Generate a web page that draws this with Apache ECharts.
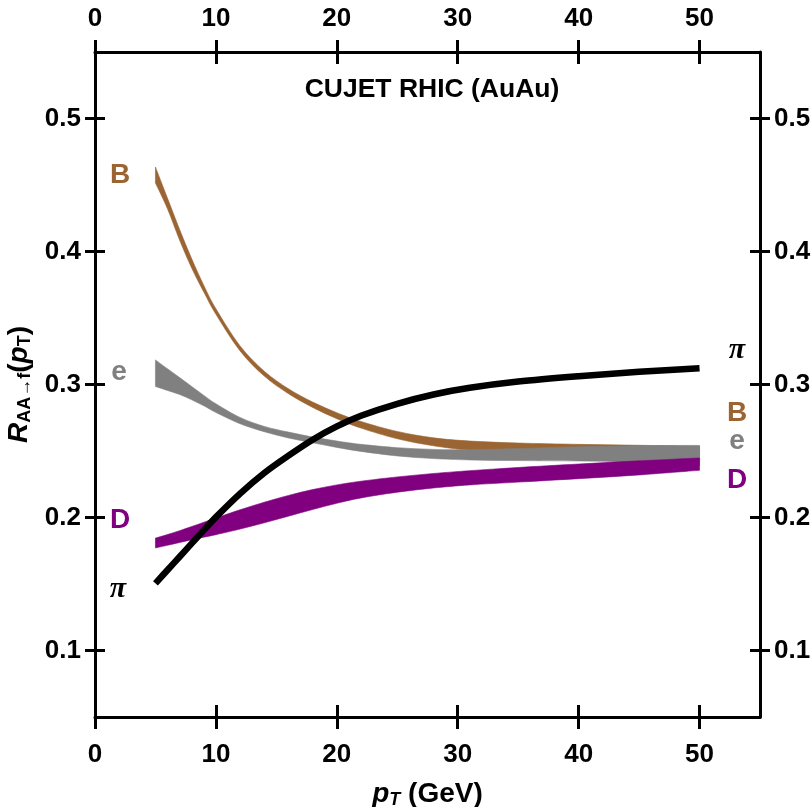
<!DOCTYPE html>
<html>
<head>
<meta charset="utf-8">
<script src="https://cdn.jsdelivr.net/npm/echarts@6/dist/echarts.min.js"></script>
<style>
html,body{margin:0;padding:0;background:#fff;}
#chart{width:811px;height:807px;}
</style>
</head>
<body>
<div id="chart"></div>
<script>
// ---- data ----
const pt   = [5,6,7,8,9,10,12,14,16,18,20,22,25,28,31,35,40,45,50];
const piR  = [0.1505,0.1605,0.1705,0.1805,0.1905,0.2003,0.2180,0.2335,0.2465,0.2585,0.2685,0.2765,0.2855,0.2925,0.2975,0.3022,0.3062,0.3095,0.3122];
const bUp  = [0.4635,0.4400,0.4165,0.3945,0.3745,0.3570,0.3290,0.3100,0.2968,0.2868,0.2788,0.2722,0.2647,0.2599,0.2575,0.2560,0.2550,0.2543,0.2535];
const bLo  = [0.4515,0.4320,0.4085,0.3875,0.3695,0.3528,0.3252,0.3063,0.2931,0.2828,0.2743,0.2672,0.2592,0.2539,0.2505,0.2475,0.2440,0.2413,0.2390];
const eUp  = [0.3185,0.3118,0.3052,0.2985,0.2918,0.2855,0.2752,0.2685,0.2642,0.2605,0.2575,0.2550,0.2525,0.2512,0.2510,0.2518,0.2532,0.2540,0.2542];
const eLo  = [0.2985,0.2955,0.2925,0.2885,0.2840,0.2790,0.2705,0.2645,0.2598,0.2562,0.2527,0.2497,0.2463,0.2443,0.2433,0.2428,0.2425,0.2420,0.2415];
const dUp  = [0.1845,0.1872,0.1901,0.1932,0.1964,0.1996,0.2058,0.2115,0.2166,0.2210,0.2245,0.2273,0.2305,0.2331,0.2352,0.2376,0.2402,0.2426,0.2448];
const dLo  = [0.1771,0.1791,0.1812,0.1833,0.1852,0.1871,0.1913,0.1960,0.2010,0.2060,0.2107,0.2147,0.2190,0.2222,0.2245,0.2266,0.2292,0.2320,0.2355];
const xTicks = [0,10,20,30,40,50];
const yTicks = [0.1,0.2,0.3,0.4,0.5];
const title = 'CUJET RHIC (AuAu)';

const BROWN = '#9a6532', GRAY = '#808080', PURPLE = '#800080', BLACK = '#000000';
const FONT = 'Liberation Sans, Arial, sans-serif';

// Catmull-Rom -> cubic bezier segments through pixel points
function crSegments(p) {
  let d = '';
  const n = p.length;
  for (let i = 0; i < n - 1; i++) {
    const p0 = p[Math.max(i - 1, 0)], p1 = p[i], p2 = p[i + 1], p3 = p[Math.min(i + 2, n - 1)];
    const c1 = [p1[0] + (p2[0] - p0[0]) / 6, p1[1] + (p2[1] - p0[1]) / 6];
    const c2 = [p2[0] - (p3[0] - p1[0]) / 6, p2[1] - (p3[1] - p1[1]) / 6];
    d += 'C' + c1[0] + ' ' + c1[1] + ' ' + c2[0] + ' ' + c2[1] + ' ' + p2[0] + ' ' + p2[1];
  }
  return d;
}

function band(name, lo, up, color) {
  return {
    name: name, type: 'custom', silent: true,
    xAxisIndex: 0, yAxisIndex: 0,
    data: pt.map((x, i) => [x, lo[i], up[i]]),
    encode: { x: 0, y: [1, 2] },
    renderItem: function (params, api) {
      if (params.dataIndex !== 0) return null;
      const n = params.dataInsideLength;
      const upP = [], loP = [];
      for (let i = 0; i < n; i++) {
        upP.push(api.coord([api.value(0, i), api.value(2, i)]));
        loP.push(api.coord([api.value(0, i), api.value(1, i)]));
      }
      loP.reverse();
      const d = 'M' + upP[0][0] + ' ' + upP[0][1] + crSegments(upP) +
        'L' + loP[0][0] + ' ' + loP[0][1] + crSegments(loP) + 'Z';
      return {
        type: 'path', shape: { pathData: d },
        style: { fill: color, stroke: color, lineWidth: 0.6 }
      };
    }
  };
}

function xAx(pos, withLabels, inside) {
  return {
    type: 'value', position: pos, min: 0, max: 55,
    axisLine: { show: withLabels, onZero: false, lineStyle: { color: BLACK, width: 3 } },
    axisTick: { show: true, inside: inside, length: 12, customValues: xTicks, lineStyle: { color: BLACK, width: 3 } },
    axisLabel: { show: withLabels, customValues: xTicks, margin: pos === 'bottom' ? 25 : 20, color: BLACK, fontSize: 26, fontWeight: 'bold', fontFamily: FONT },
    splitLine: { show: false }
  };
}
function yAx(pos, withLabels, inside) {
  return {
    type: 'value', position: pos, min: 0.05, max: 0.55,
    axisLine: { show: withLabels, onZero: false, lineStyle: { color: BLACK, width: 3 } },
    axisTick: { show: true, inside: inside, length: 10, customValues: yTicks, lineStyle: { color: BLACK, width: 3 } },
    axisLabel: { show: withLabels, customValues: yTicks, margin: 14, color: BLACK, fontSize: 26, fontWeight: 'bold', fontFamily: FONT },
    splitLine: { show: false }
  };
}

const xAxes = [xAx('bottom', true, false), xAx('bottom', false, true), xAx('top', true, false), xAx('top', false, true)];
xAxes[0].name = '{i|p}{s|T}{n| (GeV)}';
xAxes[0].nameLocation = 'middle';
xAxes[0].nameGap = 62;
xAxes[0].nameTextStyle = {
  rich: {
    i: { fontSize: 28, fontWeight: 'bold', fontStyle: 'italic', fontFamily: FONT, color: BLACK },
    s: { fontSize: 18, fontWeight: 'bold', fontStyle: 'italic', fontFamily: FONT, color: BLACK, verticalAlign: 'bottom', padding: [12, 0, 0, 0] },
    n: { fontSize: 28, fontWeight: 'bold', fontFamily: FONT, color: BLACK }
  }
};
const yAxes = [yAx('left', true, false), yAx('left', false, true), yAx('right', true, false), yAx('right', false, true)];
yAxes[0].name = '{i|R}{s|AA\u2192f}{n|(}{i|p}{s|T}{n|)}';
yAxes[0].nameLocation = 'middle';
yAxes[0].nameGap = 43;
yAxes[0].nameRotate = 90;
yAxes[0].nameTextStyle = {
  rich: {
    i: { fontSize: 28, fontWeight: 'bold', fontStyle: 'italic', fontFamily: FONT, color: BLACK },
    s: { fontSize: 18, fontWeight: 'bold', fontFamily: FONT, color: BLACK, verticalAlign: 'bottom', padding: [12, 0, 0, 0] },
    n: { fontSize: 28, fontWeight: 'bold', fontFamily: FONT, color: BLACK }
  }
};

const series = [
  band('B', bLo, bUp, BROWN),
  band('e', eLo, eUp, GRAY),
  band('D', dLo, dUp, PURPLE),
  {
    name: 'pi', type: 'line', symbol: 'none', smooth: 0.3, silent: true,
    data: pt.map((x, i) => [x, piR[i]]),
    lineStyle: { color: BLACK, width: 6.5, cap: 'butt' }
  }
];

function lab(text, x, y, color, serif) {
  return {
    type: 'text', x: x, y: y, silent: true,
    style: {
      text: text, fill: color, align: 'center', verticalAlign: 'middle',
      font: serif ? 'italic bold 30px "Liberation Serif", serif' : 'bold 28px ' + FONT
    }
  };
}

const chart = echarts.init(document.getElementById('chart'), null, { renderer: 'canvas' });
chart.setOption({
  animation: false,
  backgroundColor: '#ffffff',
  grid: { left: 95, right: 51, top: 52, bottom: 90, outerBoundsMode: 'none', containLabel: false },
  title: {
    text: title, left: 427, top: 71, textAlign: 'center',
    textStyle: { fontSize: 26.5, fontWeight: 'bold', fontFamily: FONT, color: BLACK }
  },
  xAxis: xAxes,
  yAxis: yAxes,
  series: series,
  graphic: [
    lab('B', 120, 175, BROWN),
    lab('e', 119, 372, GRAY),
    lab('D', 120, 520, PURPLE),
    lab('\u03c0', 118, 589, BLACK, true),
    lab('\u03c0', 737, 350, BLACK, true),
    lab('B', 737, 413, BROWN),
    lab('e', 737, 441, GRAY),
    lab('D', 737, 480, PURPLE)
  ]
});
</script>
</body>
</html>
